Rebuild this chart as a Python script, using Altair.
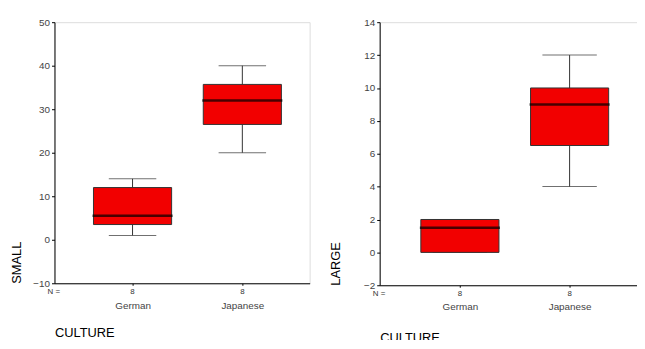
import altair as alt
import pandas as pd

culture = ["German", "Japanese"]
n_counts = ["8", "8"]

small_lower = [1, 20]
small_q1 = [3.5, 26.5]
small_median = [5.5, 32]
small_q3 = [12, 35.7]
small_upper = [14, 40]

large_lower = [0, 4]
large_q1 = [0, 6.5]
large_median = [1.5, 9]
large_q3 = [2, 10]
large_upper = [2, 12]

small_ticks = [-10, 0, 10, 20, 30, 40, 50]
large_ticks = [-2, 0, 2, 4, 6, 8, 10, 12, 14]

FONT = "Liberation Sans"
RED = "#f20000"


def panel(title, lower, q1, med, q3, upper, ticks, width, height, ypad, xpad,
          align, padx, cap):
    df = pd.DataFrame({"culture": culture, "lower": lower, "q1": q1,
                       "median": med, "q3": q3, "upper": upper, "n": n_counts})
    xaxis = alt.Axis(title="CULTURE", titleAnchor="start", titleAlign="left",
                     titleFontSize=13, titleFontWeight="normal", titleColor="black",
                     titleFont=FONT, titlePadding=xpad,
                     labelFont=FONT, labelFontSize=10, labelColor="#444",
                     labelPadding=15, tickSize=2, tickColor="black",
                     domainColor="black", labelAngle=0)
    xs = alt.Scale(type="point", padding=padx, align=align)
    ys = alt.Scale(domain=[ticks[0], ticks[-1]], nice=False, zero=False, padding=0)
    yaxis = alt.Axis(title=title, values=ticks, titleAnchor="start", titleAlign="left",
                     titleFontSize=13, titleFontWeight="normal", titleColor="black",
                     titleFont=FONT, titlePadding=ypad,
                     labelFont=FONT, labelFontSize=10, labelColor="#444",
                     labelPadding=2, tickSize=3, tickColor="black",
                     labelOverlap=False, labelFlush=False,
                     domainColor="black", grid=False)

    def X():
        return alt.X("culture:N", sort=culture, scale=xs, axis=xaxis)

    def Y(field):
        return alt.Y(field, scale=ys, axis=yaxis)

    base = alt.Chart(df)
    whisker = base.mark_rule(color="#333", strokeWidth=1).encode(
        x=X(), y=Y("lower:Q"), y2="upper:Q")
    caps_lo = base.mark_tick(color="#333", thickness=1, size=cap).encode(
        x=X(), y=Y("lower:Q"))
    caps_hi = base.mark_tick(color="#333", thickness=1, size=cap).encode(
        x=X(), y=Y("upper:Q"))
    box = base.mark_bar(size=79, color=RED, stroke="#333", strokeWidth=1).encode(
        x=X(), y=Y("q1:Q"), y2="q3:Q")
    median = base.mark_tick(color="black", thickness=2.5, size=81).encode(
        x=X(), y=Y("median:Q"))
    ntext = base.mark_text(font=FONT, fontSize=8, color="#333", baseline="middle").encode(
        x=X(), y=alt.value(height + 9), text="n:N")
    nlabel = alt.Chart(pd.DataFrame({"t": ["N ="]})).mark_text(
        font=FONT, fontSize=8, color="#333", align="left", baseline="middle").encode(
        x=alt.value(-7), y=alt.value(height + 9), text="t:N")
    return alt.layer(whisker, caps_lo, caps_hi, box, median, ntext, nlabel).properties(
        width=width, height=height)


left = panel("SMALL", small_lower, small_q1, small_median, small_q3, small_upper,
             small_ticks, 258, 264, 9, 17, 0.537, 0.662, 48)
right = panel("LARGE", large_lower, large_q1, large_median, large_q3, large_upper,
              large_ticks, 264, 266, 21, 20, 0.53, 0.69, 55)

chart = alt.hconcat(left, right, spacing=18.8).properties(
    autosize=alt.AutoSizeParams(type="none"),
    padding={"left": 47, "top": 12.5, "right": 589, "bottom": 319.5}
).configure_view(stroke=None).configure(background="white")

chart.save("out.html", embed_options={"renderer": "svg", "actions": False})
